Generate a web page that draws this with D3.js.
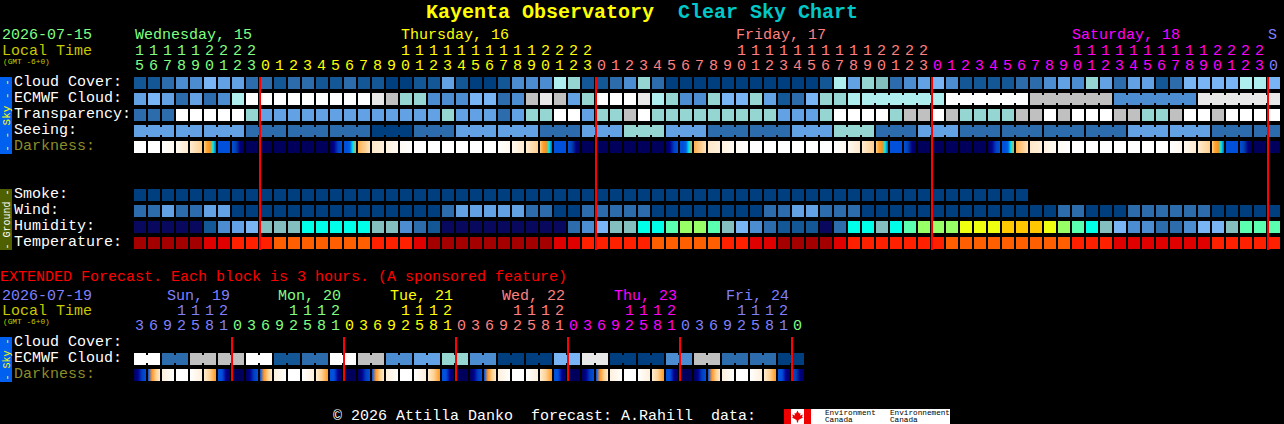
<!DOCTYPE html>
<html>
<head>
<meta charset="utf-8">
<title>Kayenta Observatory Clear Sky Chart</title>
<script src="https://cdn.jsdelivr.net/npm/d3@7"></script>
<style>
  html, body { margin: 0; padding: 0; background: #000; overflow: hidden; }
  svg { display: block; }
  text { font-family: "Liberation Mono", monospace; font-size: 15px; white-space: pre; }
</style>
</head>
<body>
<div id="chart"></div>
<script>
// tick labels
const hours = [15,16,17,18,19,20,21,22,23,
  0,1,2,3,4,5,6,7,8,9,10,11,12,13,14,15,16,17,18,19,20,21,22,23,
  0,1,2,3,4,5,6,7,8,9,10,11,12,13,14,15,16,17,18,19,20,21,22,23,
  0,1,2,3,4,5,6,7,8,9,10,11,12,13,14,15,16,17,18,19,20,21,22,23,
  0];
const extHours = [3,6,9,12,15,18,21,
  0,3,6,9,12,15,18,21, 0,3,6,9,12,15,18,21, 0,3,6,9,12,15,18,21,
  0,3,6,9,12,15,18,21, 0,3,6,9,12,15,18,21, 0];
const days = ["Wednesday, 15", "Thursday, 16", "Friday, 17", "Saturday, 18", "S"];
const extDays = ["Sun, 19", "Mon, 20", "Tue, 21", "Wed, 22", "Thu, 23", "Fri, 24"];

// sky rows, each number is a level of the cloud colour scale
const cloudCover = [1,1,2,3,3,5,4,4,2,2,1,2,2,1,1,2,1,1,0,0,1,1,4,1,0,0,1,3,3,3,8,7,1,1,2,3,7,2,0,0,0,0,0,0,0,0,0,0,0,1,8,4,
  7,6,2,3,4,5,3,1,1,1,1,2,2,3,4,3,7,4,2,4,4,1,2,5,5,5,5,8,8,5];
const ecmwfCloud = [4,5,4,2,4,2,3,8,11,11,11,11,11,11,11,11,11,10,9,7,7,3,3,3,5,5,2,3,9,10,9,4,7,11,11,11,10,8,7,3,3,7,5,5,7,4,1,2,5,7,7,8,
  8,8,8,8,8,8,11,11,11,11,11,11,9,9,9,9,9,9,3,3,3,3,3,3,10,10,10,10,10,10];
const ecmwfBlocks = [1,1,1,1,1,1,1,1,1,1,1,1,1,1,1,1,1,1,1,1,1,1,1,1,1,1,1,1,1,1,1,1,1,1,1,1,1,1,1,1,1,1,1,1,1,1,1,1,1,1,1,1,6,6,6,6,6];
const transparency = [2,2,2,11,11,11,11,11,7,4,4,4,4,4,4,4,4,4,4,4,4,4,7,4,4,4,2,4,7,7,11,11,4,7,7,9,11,7,7,7,7,7,7,7,7,7,4,4,4,7,11,11,
  11,11,7,9,9,11,9,7,7,7,7,9,9,11,9,11,11,11,9,9,7,7,9,11,11,9,11,11,11,11];
const seeing = [4,4,4,4,4,4,4,4,2,2,2,2,2,2,2,2,2,0,0,0,2,2,2,4,4,4,4,4,4,2,2,2,4,4,4,7,7,7,4,4,4,2,2,2,2,2,2,4,4,4,7,7,
  7,2,2,2,4,4,4,2,2,2,2,2,2,2,2,2,2,2,2,4,4,4,4,4,4,2,2,2,2,2];
const seeingBlocks = [3,2,3,3,3,3,3,3,3,3,3,3,3,3,3,3,3,3,3,3,3,3,3,3,3,3,3,2];
const darkness = [0,0,1,2,3,4,5,6,7,7,7,7,7,7,8,9,10,11,12,13,0,0,0,0,0,0,1,2,3,4,5,6,7,7,7,7,7,7,8,9,10,11,12,13,0,0,0,0,0,0,1,2,
  3,4,5,6,7,7,7,7,7,8,9,10,11,12,13,0,0,0,0,0,0,0,1,2,3,4,5,6,7,7];

// ground rows
const smoke = [0,0,0,0,0,0,0,0,0,0,0,0,0,0,0,0,0,0,0,0,0,0,0,0,0,0,0,0,0,0,0,0,0,0,0,0,0,0,0,0,0,0,0,0,0,0,0,0,0,0,0,0,0,0,0,0,0,0,0,0,0,0,0,0];
const wind = [2,2,4,2,2,4,4,0,0,0,0,0,0,0,0,0,0,0,0,0,0,0,2,4,4,4,4,4,2,2,0,0,2,2,2,2,2,0,0,0,0,0,0,0,0,2,2,4,4,2,2,2,
  0,0,0,0,0,0,0,0,0,0,0,0,0,0,2,2,0,0,0,2,2,2,2,2,2,0,0,0,0,0];
const humidity = ["N","N","N","N","N",1,3,4,5,"T","T","T","C","C","C","C","C","T","T",3,2,1,"N","N","N","N","N","N","N","N","N",2,3,5,"T","T","C","C","M","L","L","M","T",5,3,2,1,1,1,"N",2,"C",
  "C","T","C","M","L","L","L","Y","Y","Y","O","O","O","Y","L","M","C","T",5,3,3,2,2,3,5,5,"T","M","M","M"];
const temperature = ["D","D","D","D","D","R","R","E","E","E","F","F","F","F","F","F","F","E","E","E","R","D","D","D","D","D","D","D","D","D","R","R","E","E","E","E","E","F","F","F","F","F","E","E","R","R","D","D","D","D","R","E",
  "E","E","E","E","E","E","F","F","F","F","F","F","F","F","F","E","E","E","R","R","R","R","R","R","R","E","E","E","E","E"];

// extended forecast rows
const extEcmwf = [11,11,2,2,9,9,9,9,11,11,1,1,2,2,11,11,9,9,3,3,4,4,7,7,3,3,0,0,0,0,5,5,10,10,0,0,0,0,3,3,9,9,2,2,2,2,0,0];
const extBlocks = [2,2,2,2,2,2,2,2,2,2,2,2,2,2,2,2,2,2,2,2,2,2,2,2];
const extDarkness = [8,14,15,0,16,17,18,7,8,14,15,0,16,17,18,7,8,14,15,0,16,17,18,7,8,14,15,0,16,17,18,7,8,14,15,0,16,17,18,7,8,14,15,0,16,17,18,6];

const cloudColors = ["#003f7f","#135796","#2c6cac","#4c8dd2","#62a2e4","#79b5f5","#82bfbe","#95d6d3","#aeeeee","#c0c0c0","#e8e8e8","#ffffff"];
const humidityLevels = ["N",1,2,3,4,5,"T","C","M","L","Y","O"];
const humidityColors = ["#08085f","#135796","#2c6cac","#4c8dd2","#62a2e4","#79b5f5","#82bfbe","#00ffe8","#5affb0","#99ff66","#eeff10","#ffc800"];
const darkStops = [
  ["#ffffff","#ffffff"],
  ["#ffffff","#fff8ee"],
  ["#fff9f0","#ffe9cc"],
  ["#ffeccf","#ffcf90"],
  ["#ffd080","#ffa030","#ff9018","#00f0e8","#0060e0"],
  ["#0050dc","#0050dc"],
  ["#0050dc","#0040b0","#000080","#000060"],
  ["#00005c","#00005c"],
  ["#00005c","#000090","#0040c0","#0050dc"],
  ["#0050dc","#0050dc","#0060e0","#00e8f0","#ffa020"],
  ["#ffb050","#ffe4c0"],
  ["#ffe8c8","#fff0dc"],
  ["#fff2e0","#fffaf3"],
  ["#fffaf3","#ffffff"],
  ["#0050dc","#ff9828","#ffcf90","#ffecd0"],
  ["#fff0dc","#ffffff"],
  ["#ffffff","#ffefdc"],
  ["#ffecd0","#ffd090","#ff9820"],
  ["#0050dc","#0050dc","#000090","#00005c"]
];

const w = 1284, h = 424;
const rowH = 12;

const svg = d3.select("#chart").append("svg").attr("width", w).attr("height", h);
svg.append("rect").attr("width", w).attr("height", h).attr("fill", "#000");

const defs = svg.append("defs");
darkStops.forEach(function(stops, i) {
  const g = defs.append("linearGradient").attr("id", "dark" + i);
  stops.forEach(function(c, j) {
    g.append("stop").attr("offset", j / (stops.length - 1)).attr("stop-color", c);
  });
});

const x = d3.scaleBand().domain(d3.range(82)).range([134, 134 + 81 * 14 + 12]).paddingInner(1 / 7).paddingOuter(0).align(0);
const xExt = d3.scaleBand().domain(d3.range(48)).range([134, 134 + 47 * 14 + 12]).paddingInner(1 / 7).paddingOuter(0).align(0);

const cloudScale = d3.scaleOrdinal().domain(d3.range(12)).range(cloudColors);
const humidityScale = d3.scaleOrdinal().domain(humidityLevels).range(humidityColors);
const tempScale = d3.scaleOrdinal().domain(["D","R","E","F"]).range(["#a50000","#e00000","#ff2000","#ff5f00"]);
const darkFill = d => "url(#dark" + d + ")";

function drawRow(values, xs, y, fill, blocks) {
  const g = svg.append("g").attr("shape-rendering", "crispEdges");
  g.selectAll("rect").data(values).join("rect")
    .attr("x", (d, i) => xs(i))
    .attr("y", y)
    .attr("width", xs.bandwidth())
    .attr("height", rowH)
    .attr("fill", fill);
  if (!blocks) return;
  // cells of one forecast block are joined by a short bridge
  let col = 0;
  blocks.forEach(function(n) {
    for (let i = col; i < col + n - 1 && i < values.length - 1; i++) {
      g.append("rect")
        .attr("x", xs(i) + xs.bandwidth())
        .attr("y", y + 2)
        .attr("width", xs.step() - xs.bandwidth())
        .attr("height", rowH - 4)
        .attr("fill", fill(values[i]));
    }
    col += n;
  });
}

drawRow(cloudCover, x, 77, cloudScale);
drawRow(ecmwfCloud, x, 93, cloudScale, ecmwfBlocks);
drawRow(transparency, x, 109, cloudScale);
drawRow(seeing, x, 125, cloudScale, seeingBlocks);
drawRow(darkness, x, 141, darkFill);
drawRow(smoke, x, 189, cloudScale);
drawRow(wind, x, 205, cloudScale);
drawRow(humidity, x, 221, humidityScale);
drawRow(temperature, x, 237, tempScale);
drawRow(extEcmwf, xExt, 353, cloudScale, extBlocks);
drawRow(extDarkness, xExt, 369, darkFill);

function label(str, px, py, color, size, weight) {
  return svg.append("text").attr("x", px).attr("y", py).attr("fill", color)
    .style("font-size", (size || 15) + "px")
    .style("font-weight", weight || "normal")
    .text(str);
}

// title
label("Kayenta Observatory", 426, 18, "#ffff00", 20, "bold");
label("Clear Sky Chart", 678, 18, "#00c8c8", 20, "bold");

// header, main chart
label("2026-07-15", 2, 39, "#80ff80");
label("Local Time", 2, 55, "#c8c800");
label("(GMT -6+0)", 3, 64, "#c8c800", 7.8);
const dayColors = ["#80ff80", "#ffff00", "#ff8080", "#ff00ff", "#8080ff"];
const dayX = [135, 401, 736, 1072, 1268];
days.forEach((d, i) => label(d, dayX[i], 39, dayColors[i]));

function hourColor(i) {
  if (i < 9) return dayColors[0];
  return dayColors[1 + Math.floor((i - 9) / 24)];
}
function drawHours(list, xs, tensY, unitY, colorOf) {
  const g = svg.append("g").attr("text-anchor", "middle");
  g.selectAll("text.u").data(list).join("text").attr("class", "u")
    .attr("x", (d, i) => xs(i) + 5.5).attr("y", unitY)
    .attr("fill", (d, i) => colorOf(i))
    .text(d => d % 10);
  g.selectAll("text.t").data(list.map((d, i) => ({ d, i })).filter(o => o.d >= 10)).join("text").attr("class", "t")
    .attr("x", o => xs(o.i) + 5.5).attr("y", tensY)
    .attr("fill", o => colorOf(o.i))
    .text(o => Math.floor(o.d / 10));
}
drawHours(hours, x, 55, 70, hourColor);

// row labels
const skyLabels = ["Cloud Cover:", "ECMWF Cloud:", "Transparency:", "Seeing:", "Darkness:"];
skyLabels.forEach((s, i) => label(s, 14, 86 + i * 16, i === 4 ? "#8c8c28" : "#ffffff"));
const groundLabels = ["Smoke:", "Wind:", "Humidity:", "Temperature:"];
groundLabels.forEach((s, i) => label(s, 14, 198 + i * 16, "#ffffff"));

// side bars
function sideBar(y0, y1, fill, textFill, str, size) {
  svg.append("rect").attr("x", 0).attr("y", y0).attr("width", 12).attr("height", y1 - y0)
    .attr("fill", fill).attr("shape-rendering", "crispEdges");
  svg.append("text").attr("transform", `translate(9.5,${(y0 + y1) / 2}) rotate(-90)`)
    .attr("text-anchor", "middle").attr("fill", textFill)
    .style("font-size", size + "px").text(str);
}
sideBar(77, 154, "#0060f0", "#ffff00", "- - Sky - -", 11);
sideBar(189, 250, "#4f6000", "#ffffff", "- Ground -", 10);
sideBar(337, 382, "#0060f0", "#ffff00", "- Sky -", 10);

// midnight lines
const midnightCols = [9, 33, 57, 81];
svg.append("g").attr("shape-rendering", "crispEdges").selectAll("rect").data(midnightCols).join("rect")
  .attr("x", d => x(d) - 1).attr("y", 77).attr("width", 2).attr("height", 173).attr("fill", "#ff0000");

// extended forecast
label("EXTENDED Forecast. Each block is 3 hours. (A sponsored feature)", 0, 281, "#ff0000");
label("2026-07-19", 2, 300, "#8080ff");
label("Local Time", 2, 315, "#c8c800");
label("(GMT -6+0)", 3, 324, "#c8c800", 7.8);
const extDayColors = ["#8080ff", "#80ff80", "#ffff00", "#ff8080", "#ff00ff", "#8080ff", "#80ff80"];
const extDayX = [167, 278, 390, 502, 614, 726];
extDays.forEach((d, i) => label(d, extDayX[i], 300, extDayColors[i]));
drawHours(extHours, xExt, 315, 330, i => extDayColors[i < 7 ? 0 : 1 + Math.floor((i - 7) / 8)]);
["Cloud Cover:", "ECMWF Cloud:", "Darkness:"].forEach((s, i) => label(s, 14, 346 + i * 16, i === 2 ? "#8c8c28" : "#ffffff"));
const extMidnightCols = [7, 15, 23, 31, 39, 47];
svg.append("g").attr("shape-rendering", "crispEdges").selectAll("rect").data(extMidnightCols).join("rect")
  .attr("x", d => xExt(d) - 1).attr("y", 337).attr("width", 2).attr("height", 44).attr("fill", "#ff0000");

// footer
label("\u00a9 2026 Attilla Danko  forecast: A.Rahill  data:", 333, 420, "#ffffff");
svg.append("rect").attr("x", 784).attr("y", 409).attr("width", 166).attr("height", 15).attr("fill", "#ffffff").attr("shape-rendering", "crispEdges");
svg.append("rect").attr("x", 784).attr("y", 409).attr("width", 7).attr("height", 15).attr("fill", "#ee0000").attr("shape-rendering", "crispEdges");
svg.append("rect").attr("x", 804).attr("y", 409).attr("width", 7).attr("height", 15).attr("fill", "#ee0000").attr("shape-rendering", "crispEdges");
svg.append("path").attr("transform", "translate(797.5,416.5)")
  .attr("d", "M0,-6 L1.5,-3 L3,-3.6 L2.5,-1 L5.5,-2 L4.5,0 L5.5,1 L1,3.5 L0.5,6 L-0.5,6 L-1,3.5 L-5.5,1 L-4.5,0 L-5.5,-2 L-2.5,-1 L-3,-3.6 L-1.5,-3 Z")
  .attr("fill", "#ee0000");
label("Environment", 825, 415, "#000000", 7.7);
label("Canada", 825, 422, "#000000", 7.7);
label("Environnement", 890, 415, "#000000", 7.7);
label("Canada", 890, 422, "#000000", 7.7);
</script>
</body>
</html>
